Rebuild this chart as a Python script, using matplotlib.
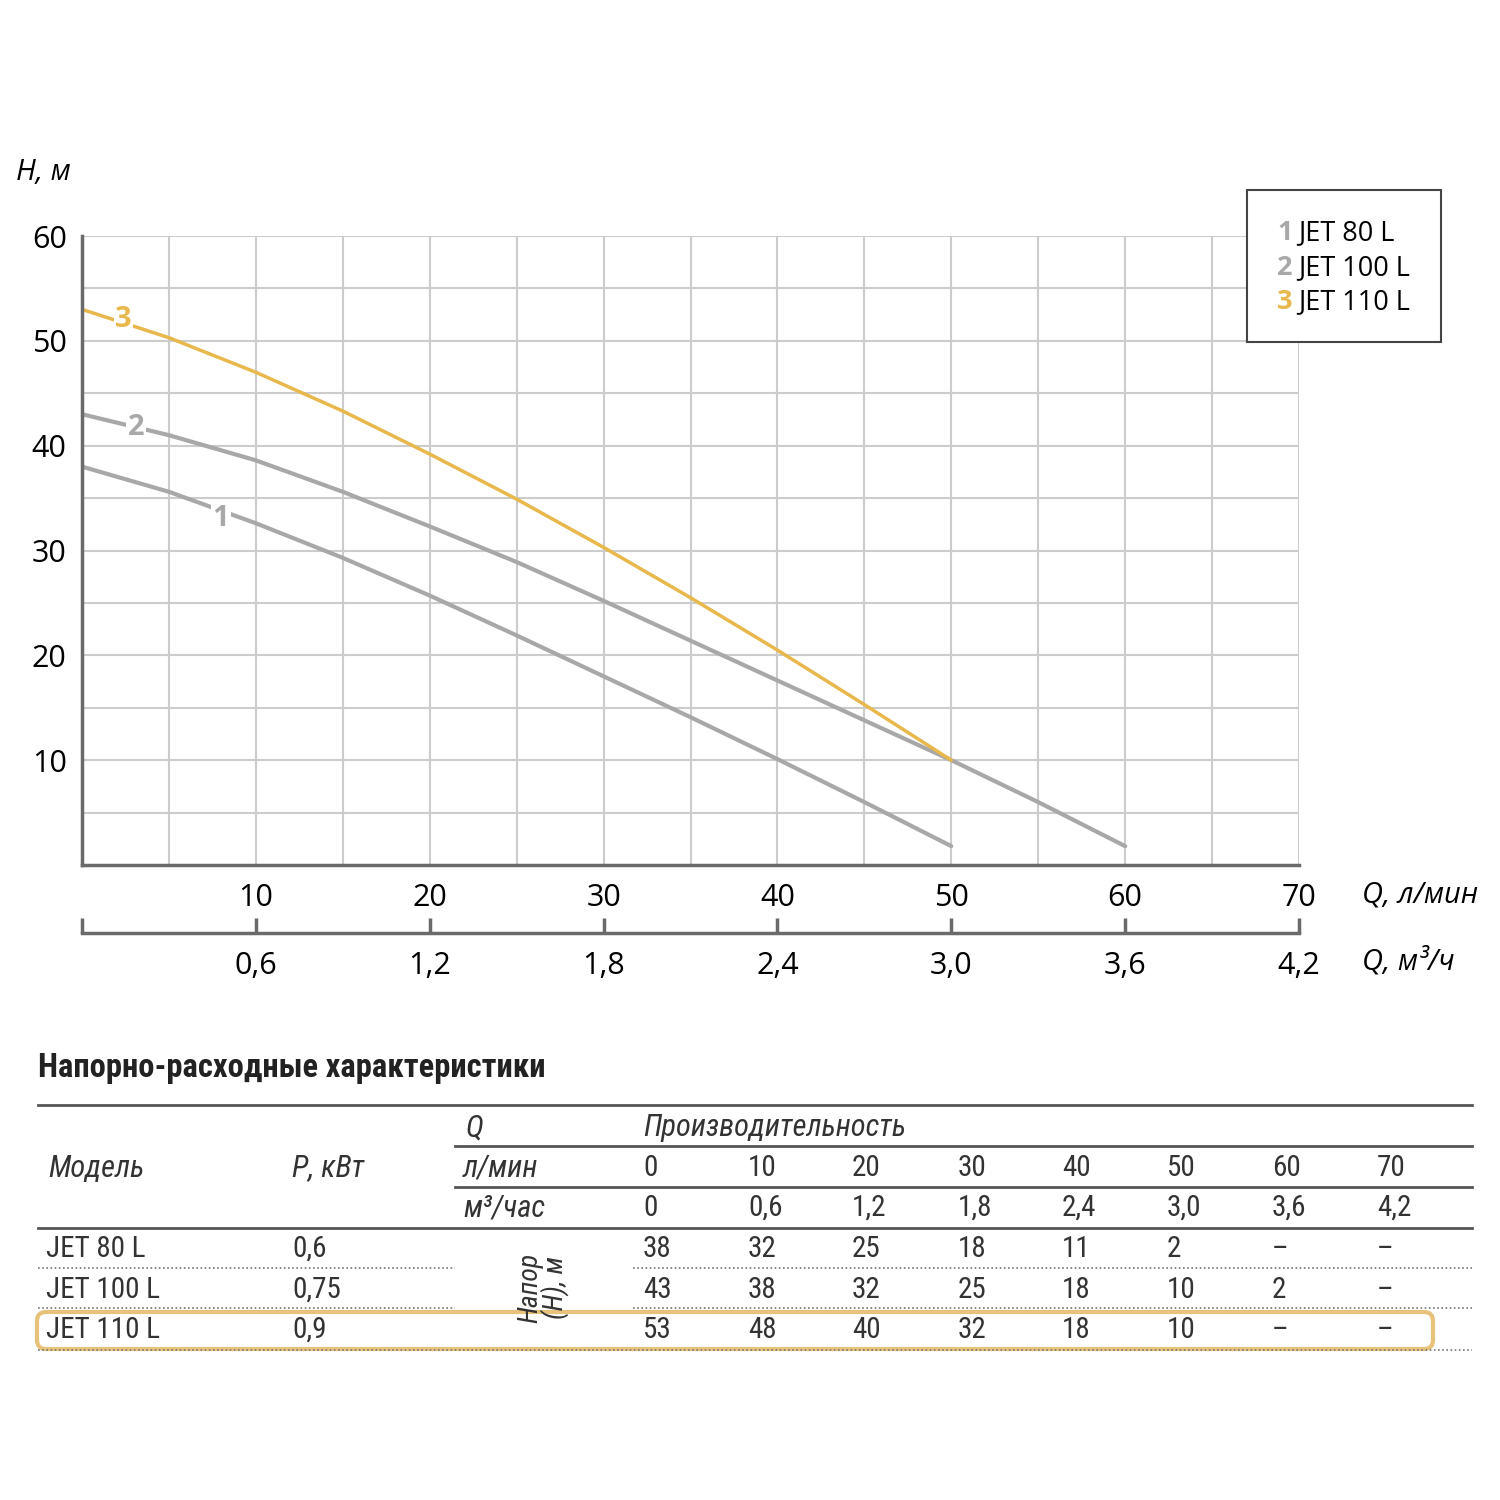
import matplotlib
matplotlib.use("Agg")
import matplotlib.pyplot as plt
from matplotlib import font_manager
from matplotlib.lines import Line2D
from matplotlib.patches import Rectangle, FancyBboxPatch

# Кривые (Q, л/мин -> H, м)
q_80 = [0, 5, 10, 15, 20, 25, 30, 35, 40, 45, 50]
h_80 = [38.0, 35.6, 32.6, 29.3, 25.7, 21.9, 18.0, 14.1, 10.1, 6.0, 1.8]
q_100 = [0, 5, 10, 15, 20, 25, 30, 35, 40, 45, 50, 55, 60]
h_100 = [43.0, 41.0, 38.6, 35.6, 32.3, 28.9, 25.2, 21.4, 17.6, 13.8, 10.0, 6.0, 1.8]
q_110 = [0, 5, 10, 15, 20, 25, 30, 35, 40, 45, 50]
h_110 = [53.0, 50.3, 47.0, 43.3, 39.2, 34.9, 30.3, 25.5, 20.5, 15.3, 10.0]

x_ticks = [10, 20, 30, 40, 50, 60, 70]
y_ticks = [10, 20, 30, 40, 50, 60]
m3_ticks = [0, 0.6, 1.2, 1.8, 2.4, 3.0, 3.6, 4.2]
m3_labels = ["", "0,6", "1,2", "1,8", "2,4", "3,0", "3,6", "4,2"]

# Таблица
models = ["JET 80 L", "JET 100 L", "JET 110 L"]
power = ["0,6", "0,75", "0,9"]
flow_lpm = ["0", "10", "20", "30", "40", "50", "60", "70"]
flow_m3h = ["0", "0,6", "1,2", "1,8", "2,4", "3,0", "3,6", "4,2"]
head_80 = ["38", "32", "25", "18", "11", "2", "–", "–"]
head_100 = ["43", "38", "32", "25", "18", "10", "2", "–"]
head_110 = ["53", "48", "40", "32", "18", "10", "–", "–"]

GREY = "#a8a8a8"
ORANGE = "#e8b84c"
AXC = "#6a6a6a"

names = {f.name for f in font_manager.fontManager.ttflist}
narrow = next((n for n in ["Liberation Sans Narrow", "Roboto Condensed", "Open Sans Condensed"]
               if n in names), "Roboto")
plt.rcParams["font.family"] = ["Open Sans", "DejaVu Sans"]

fig = plt.figure(figsize=(15, 15), dpi=100)


def fx(x):
    return x / 1500


def fy(y):
    return 1 - y / 1500


ax = fig.add_axes([fx(82), fy(865), fx(1299) - fx(82), fy(236) - fy(865)])
ax.set_xlim(0, 70)
ax.set_ylim(0, 60)
ax.set_xticks(x_ticks)
ax.set_xticks([5, 15, 25, 35, 45, 55, 65], minor=True)
ax.set_yticks(y_ticks)
ax.set_yticks([5, 15, 25, 35, 45, 55], minor=True)
ax.grid(True, which="both", color="#cccccc", lw=1.5)
ax.set_axisbelow(True)
ax.tick_params(which="both", length=0)
ax.tick_params(axis="x", labelsize=22, pad=13)
ax.tick_params(axis="y", labelsize=22, pad=11)
for s in ["top", "right"]:
    ax.spines[s].set_visible(False)
for s in ["left", "bottom"]:
    ax.spines[s].set_color(AXC)
    ax.spines[s].set_linewidth(2.5)

ax.plot(q_80, h_80, color=GREY, lw=3, solid_capstyle="round", solid_joinstyle="round")
ax.plot(q_100, h_100, color=GREY, lw=3, solid_capstyle="round", solid_joinstyle="round")
ax.plot(q_110, h_110, color=ORANGE, lw=2.5, solid_capstyle="round", solid_joinstyle="round")

bb = dict(boxstyle="square,pad=0.05", fc="white", ec="none")
ax.text(2.4, 52.0, "3", color=ORANGE, fontsize=21, weight="bold", ha="center", va="center", bbox=bb)
ax.text(3.1, 41.7, "2", color=GREY, fontsize=21, weight="bold", ha="center", va="center", bbox=bb)
ax.text(8.0, 33.1, "1", color=GREY, fontsize=21, weight="bold", ha="center", va="center", bbox=bb)

# Вторая шкала, м3/ч
sec = ax.secondary_xaxis(-0.108, functions=(lambda q: q * 0.06, lambda m: m / 0.06))
sec.set_xticks(m3_ticks, labels=m3_labels)
sec.tick_params(direction="in", length=11, width=2.5, color=AXC, labelsize=22, pad=13)
sec.spines["bottom"].set_color(AXC)
sec.spines["bottom"].set_linewidth(2.5)

fig.text(fx(16), fy(172), "H, м", fontsize=21, style="italic", va="center")
fig.text(fx(1362), fy(895), "Q, л/мин", fontsize=21, style="italic", va="center")
fig.text(fx(1362), fy(962), "Q, м³/ч", fontsize=21, style="italic", va="center")

# Легенда
fig.add_artist(Rectangle((fx(1247), fy(342)), fx(1441) - fx(1247), (342 - 190) / 1500,
                         transform=fig.transFigure, fc="white", ec="#444444", lw=1.5))
for i, (m, c) in enumerate(zip(models, [GREY, GREY, ORANGE])):
    y = [233, 268, 302][i]
    fig.text(fx(1277), fy(y), str(i + 1), color=c, fontsize=19.5, weight="bold", va="center")
    fig.text(fx(1298), fy(y), m, fontsize=19.5, va="center")

# Таблица
TF = dict(family=[narrow, "DejaVu Sans"], fontsize=21, va="center")
TI = dict(family=[narrow, "DejaVu Sans"], fontsize=22, va="center", style="italic")
fig.text(fx(38), fy(1068), "Напорно-расходные характеристики", weight="bold",
         family=[narrow, "DejaVu Sans"], fontsize=23.5, va="center", color="#222222")


def hline(y, x0, x1, lw=2, ls="-", color="#555555"):
    fig.add_artist(Line2D([fx(x0), fx(x1)], [fy(y), fy(y)], transform=fig.transFigure,
                          color=color, lw=lw, ls=ls))


hline(1105, 38, 1472)
hline(1146, 455, 1472)
hline(1187, 455, 1472)
hline(1228, 38, 1472)
for y in [1268, 1308]:
    hline(y, 38, 455, lw=1.2, ls=(0, (1, 1.5)), color="#777777")
    hline(y, 633, 1472, lw=1.2, ls=(0, (1, 1.5)), color="#777777")
hline(1350, 38, 1472, lw=1.2, ls=(0, (1, 1.5)), color="#777777")

fig.text(fx(465), fy(1128), "Q", color="#333333", **TI)
fig.text(fx(643), fy(1128), "Производительность", color="#333333", **TI)
fig.text(fx(48), fy(1168), "Модель", color="#333333", **TI)
fig.text(fx(292), fy(1168), "P, кВт", color="#333333", **TI)
fig.text(fx(463), fy(1168), "л/мин", color="#333333", **TI)
fig.text(fx(463), fy(1208), "м³/час", color="#333333", **TI)

cols = [643, 748, 852, 958, 1062, 1167, 1272, 1377]
for x, a, b in zip(cols, flow_lpm, flow_m3h):
    fig.text(fx(x), fy(1168), a, color="#333333", **TF)
    fig.text(fx(x), fy(1208), b, color="#333333", **TF)

for y, m, p, row in zip([1249, 1290, 1330], models, power, [head_80, head_100, head_110]):
    fig.text(fx(46), fy(y), m, color="#333333", **TF)
    fig.text(fx(292), fy(y), p, color="#333333", **TF)
    for x, v in zip(cols, row):
        fig.text(fx(x), fy(y), v, color="#333333", **TF)

fig.text(fx(543), fy(1288), "Напор\n(H), м", rotation=90, ha="center", va="center",
         style="italic", family=[narrow, "DejaVu Sans"], fontsize=20, linespacing=0.85,
         color="#333333")

fig.add_artist(FancyBboxPatch((fx(37), fy(1349)), fx(1433) - fx(37), (1349 - 1312) / 1500,
                              boxstyle="round,pad=0,rounding_size=0.006",
                              transform=fig.transFigure, fc="none", ec="#e8c27a", lw=3))

fig.savefig("out.png", dpi=100, facecolor="white")
